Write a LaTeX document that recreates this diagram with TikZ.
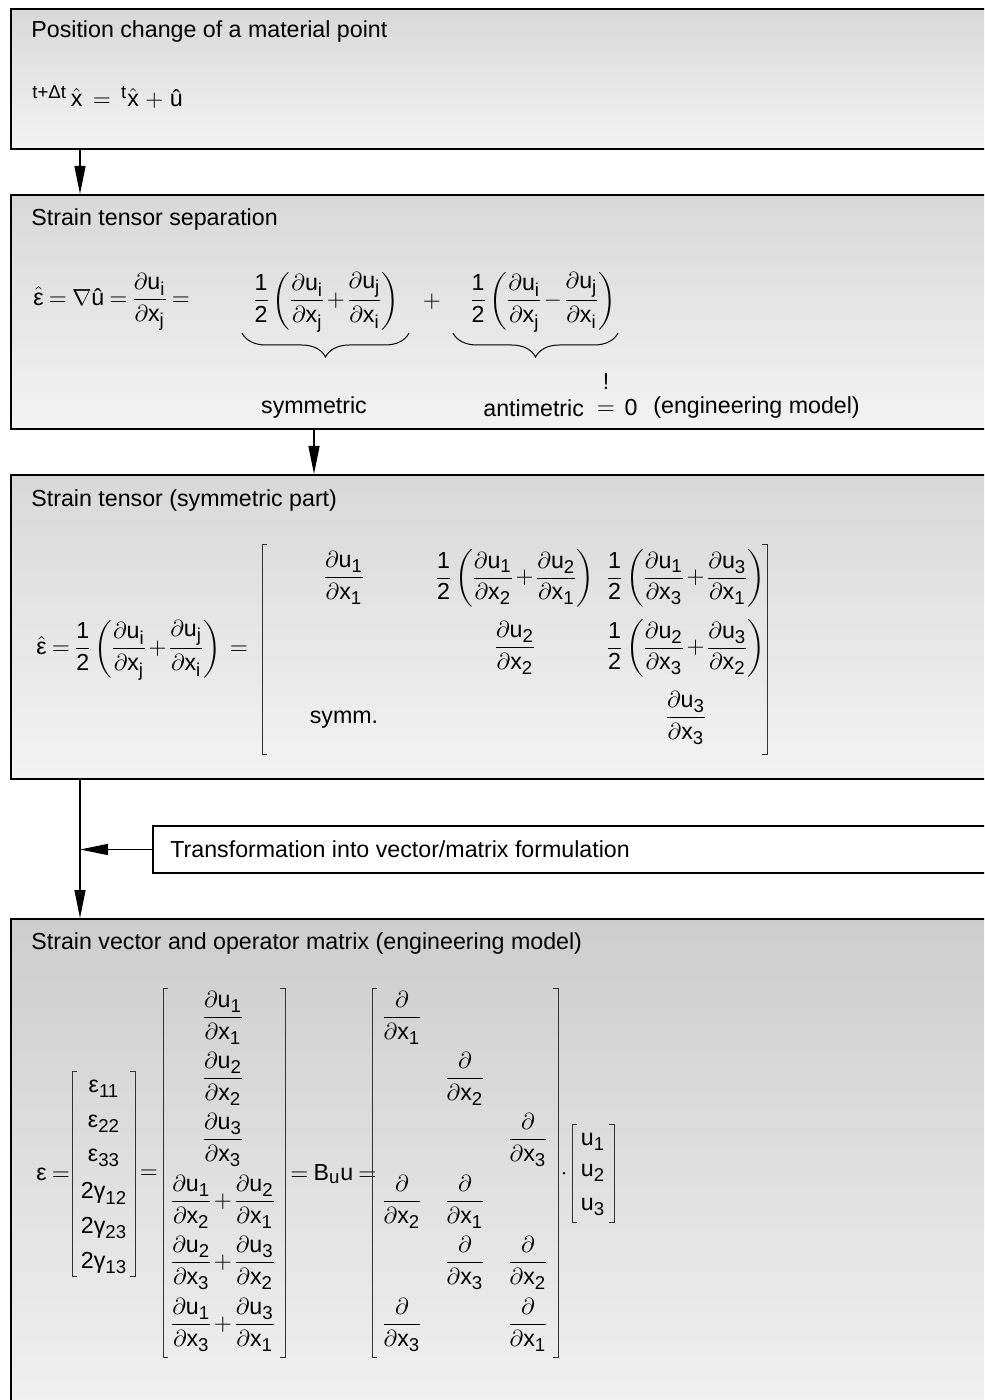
\documentclass[tikz,border=0pt]{standalone}
\usepackage{fix-cm}
\usepackage{amsmath}
\usepackage{fontspec}
\setmainfont{Liberation Sans}
\usetikzlibrary{arrows.meta,decorations.pathreplacing}

% larger sub- and superscripts, tight spacing in the formulas
\DeclareMathSizes{11.6}{11.6}{9.3}{7.6}
\thickmuskip=4mu plus 1mu
\medmuskip=2mu plus 1mu
\nulldelimiterspace=0.6pt

% upright text letters inside formulas
\newcommand\tx[1]{\text{#1}}
% partial derivative du_a / dx_b
\newcommand\pdu[2]{\dfrac{\partial\tx{u}_{\tx{#1}}}{\partial\tx{x}_{\tx{#2}}}}
% operator d / dx_a
\newcommand\dop[1]{\dfrac{\partial}{\partial\tx{x}_{\tx{#1}}}}
\newcommand\hlf{{\dfrac{\tx{1}}{\tx{2}}}}
% square brackets of a matrix: x, top y, bottom y
\newcommand\lbrk[3]{\draw[brk] (#1+5,#2) -- (#1,#2) -- (#1,#3) -- (#1+5,#3);}
\newcommand\rbrk[3]{\draw[brk] (#1-5,#2) -- (#1,#2) -- (#1,#3) -- (#1-5,#3);}

\definecolor{boxtop}{HTML}{D8D8D8}
\definecolor{boxbot}{HTML}{F3F3F3}
\definecolor{boxtopd}{HTML}{CDCDCD}

\tikzset{
  panel/.style={draw=black, line width=1pt, top color=boxtop, bottom color=boxbot,
    anchor=north west, inner sep=0pt, minimum width=500pt},
  note/.style={draw=black, line width=1pt, fill=white, anchor=north west,
    inner sep=0pt, minimum width=450pt, minimum height=23.5pt},
  ttl/.style={anchor=west, inner sep=0pt},
  arr/.style={line width=0.65pt, -{Triangle[length=14pt,width=5.5pt]}},
  brk/.style={line width=0.5pt, black!80},
  ubrace/.style={decorate, decoration={brace, mirror, amplitude=12pt}, line width=0.5pt},
}

\begin{document}
\begin{tikzpicture}[x=0.5pt, y=-0.5pt,
  every node/.append style={font=\fontsize{11.6}{14}\selectfont, inner sep=0pt}]
\useasboundingbox (0,0) rectangle (984,1400);
\clip (0,0) rectangle (984,1400);
\coordinate (colA) at (80,0);
\coordinate (colB) at (314,0);

% panels
\node[panel, minimum height=70pt] (b1) at (10,8) {};
\node[panel, minimum height=117pt] (b2) at (10,194) {};
\node[panel, minimum height=152pt] (b3) at (10,474) {};
\node[panel, minimum height=262pt, top color=boxtopd] (b4) at (10,918) {};
\node[note] (side) at (152,825) {};
\node[ttl] (sidetext) at (170,849) {Transformation into vector/matrix formulation};

% connectors
\draw[arr] (b1.south -| colA) -- (b2.north -| colA);
\draw[arr] (b2.south -| colB) -- (b3.north -| colB);
\draw[arr] (b3.south -| colA) -- (b4.north -| colA);
\draw[arr] (side.west) -- (side.west -| colA);

% panel 1
\node[ttl] (t1) at (31,32) {Position change of a material point};
\node[ttl] (f1) at (32,97) {${}^{\tx{t+Δt}}\,\hat{\tx{x}}\;=\;{}^{\tx{t}}\hat{\tx{x}}\,+\,\tx{û}$};

% panel 2
\node[ttl] (t2) at (31,220) {Strain tensor separation};
\node[ttl] (f2) at (33,302) {$\hat{\tx{ε}}=\nabla\tx{û}=\pdu{i}{j}=$};
\node[ttl] (symterm) at (253,302) {$\hlf\left(\pdu{i}{j}+\pdu{j}{i}\right)$};
\node (plus) at (432,302) {$+$};
\node[ttl] (antterm) at (470,302) {$\hlf\left(\pdu{i}{j}-\pdu{j}{i}\right)$};
\draw[ubrace] (242,333) -- (409,333);
\draw[ubrace] (453,333) -- (618,333);
\node (symlab) at (314,408) {symmetric};
\node[ttl] (antlab) at (483,408) {antimetric};
\node (eqz) at (606,410) {$=$};
\node (bang) at (606,382) {!};
\node (zero) at (631,408) {0};
\node[ttl] (eng) at (653,408) {(engineering model)};

% panel 3
\node[ttl] (t3) at (31,501) {Strain tensor (symmetric part)};
\node[ttl] (f3) at (36,650) {$\hat{\tx{ε}}=\hlf\left(\pdu{i}{j}+\pdu{j}{i}\right)$};
\node (f3eq) at (239,650) {$=$};
\lbrk{262}{544}{754}
\rbrk{767}{544}{754}
\node (e11) at (344,578) {$\pdu{1}{1}$};
\node (e12) at (515,578) {$\hlf\left(\pdu{1}{2}+\pdu{2}{1}\right)$};
\node (e13) at (686,578) {$\hlf\left(\pdu{1}{3}+\pdu{3}{1}\right)$};
\node (e22) at (515,648) {$\pdu{2}{2}$};
\node (e23) at (686,648) {$\hlf\left(\pdu{2}{3}+\pdu{3}{2}\right)$};
\node (symm) at (344,720) {symm.};
\node (e33) at (686,718) {$\pdu{3}{3}$};

% panel 4
\node[ttl] (t4) at (31,943) {Strain vector and operator matrix (engineering model)};
\node[ttl] (epslhs) at (36,1174) {$\tx{ε}=$};
\lbrk{72}{1071}{1276}
\rbrk{135}{1071}{1276}
\node (v1) at (104,1089) {$\tx{ε}_{\tx{11}}$};
\node (v2) at (104,1124) {$\tx{ε}_{\tx{22}}$};
\node (v3) at (104,1158) {$\tx{ε}_{\tx{33}}$};
\node (v4) at (104,1193) {$\tx{2γ}_{\tx{12}}$};
\node (v5) at (104,1228) {$\tx{2γ}_{\tx{23}}$};
\node (v6) at (104,1263) {$\tx{2γ}_{\tx{13}}$};
\node (eqA) at (149,1174) {$=$};
\lbrk{163}{988}{1357}
\rbrk{285}{988}{1357}
\node (d1) at (223,1018) {$\pdu{1}{1}$};
\node (d2) at (223,1079) {$\pdu{2}{2}$};
\node (d3) at (223,1140) {$\pdu{3}{3}$};
\node (d4) at (223,1202) {$\pdu{1}{2}+\pdu{2}{1}$};
\node (d5) at (223,1263) {$\pdu{2}{3}+\pdu{3}{2}$};
\node (d6) at (223,1325) {$\pdu{1}{3}+\pdu{3}{1}$};
\node[ttl] (bu) at (290,1174) {$=\tx{B}_{\tx{u}}\tx{u}=$};
\lbrk{372}{988}{1357}
\rbrk{558}{988}{1357}
\node (o11) at (402,1018) {$\dop{1}$};
\node (o22) at (465,1079) {$\dop{2}$};
\node (o33) at (528,1140) {$\dop{3}$};
\node (o41) at (402,1202) {$\dop{2}$};
\node (o42) at (465,1202) {$\dop{1}$};
\node (o52) at (465,1263) {$\dop{3}$};
\node (o53) at (528,1263) {$\dop{2}$};
\node (o61) at (402,1325) {$\dop{3}$};
\node (o63) at (528,1325) {$\dop{1}$};
\node (dot) at (564,1174) {$\cdot$};
\lbrk{572}{1124}{1222}
\rbrk{614}{1124}{1222}
\node (u1) at (593,1142) {$\tx{u}_{\tx{1}}$};
\node (u2) at (593,1173) {$\tx{u}_{\tx{2}}$};
\node (u3) at (593,1207) {$\tx{u}_{\tx{3}}$};
\end{tikzpicture}
\end{document}
